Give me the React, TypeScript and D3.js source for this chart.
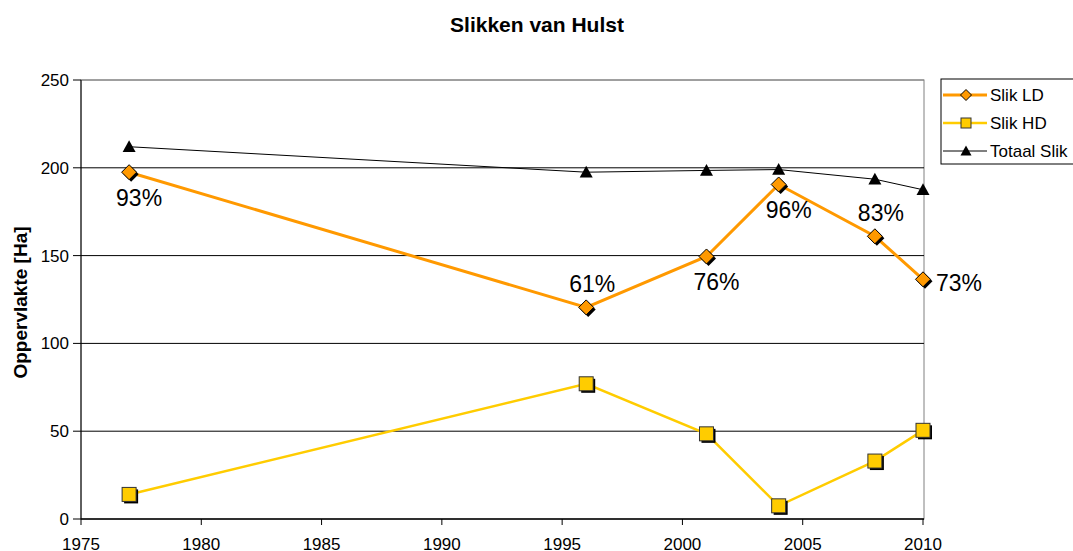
import React from "react";
import * as d3 from "d3";

const years = [1977, 1996, 2001, 2004, 2008, 2010];
const slikLD = [197.5, 120.5, 149.5, 190.5, 161, 136.5];
const slikHD = [14, 77, 48.5, 7.5, 33, 50.5];
const totaal = [212, 197.5, 198.5, 199, 193.5, 187.5];
const pctLabels = ["93%", "61%", "76%", "96%", "83%", "73%"];
const pctPos = ["below", "above", "below", "below", "above", "right"];
const xTicks = [1975, 1980, 1985, 1990, 1995, 2000, 2005, 2010];
const yTicks = [0, 50, 100, 150, 200, 250];

const W = 1073, H = 551;
const m = { left: 81, right: 924, top: 80, bottom: 519 };
const FONT = "Liberation Sans, Arial, sans-serif";

export default function App() {
  const x = d3.scaleLinear().domain([1975, 2010]).range([m.left, m.right - 1]);
  const y = d3.scaleLinear().domain([0, 250]).range([m.bottom, m.top]);
  const line = (vals: number[]) =>
    d3.line<number>().x((_, i) => x(years[i])).y((v) => y(v))(vals) || "";

  const diamond = (cx: number, cy: number, r: number) =>
    `M${cx},${cy - r}L${cx + r},${cy}L${cx},${cy + r}L${cx - r},${cy}Z`;
  const tri = (cx: number, cy: number, r: number) =>
    `M${cx},${cy - r}L${cx + r},${cy + r * 0.8}L${cx - r},${cy + r * 0.8}Z`;

  const labelXY = (i: number) => {
    const px = x(years[i]), py = y(slikLD[i]);
    const p = pctPos[i];
    if (p === "below") return { lx: px + 10, ly: py + 34, anchor: "middle" };
    if (p === "above") return { lx: px + 6, ly: py - 15, anchor: "middle" };
    return { lx: px + 13, ly: py + 12, anchor: "start" };
  };

  return (
    <svg width={W} height={H} style={{ position: "absolute", left: 0, top: 0, background: "#fff" }} fontFamily={FONT}>
      <rect x={0} y={0} width={W} height={H} fill="#fff" />
      <text x={537} y={32} textAnchor="middle" fontSize={21} fontWeight="bold">Slikken van Hulst</text>
      {/* plot border */}
      <rect x={m.left} y={m.top} width={m.right - m.left} height={m.bottom - m.top} fill="none" stroke="#808080" strokeWidth={1} />
      {/* gridlines */}
      {yTicks.map((t) => (
        <line key={"g" + t} x1={m.left} x2={m.right} y1={y(t)} y2={y(t)} stroke={t === 250 ? "#808080" : "#000"} strokeWidth={1} />
      ))}
      {/* axes */}
      <line x1={m.left} x2={m.left} y1={m.top} y2={m.bottom} stroke="#000" />
      <line x1={m.left} x2={m.right} y1={m.bottom} y2={m.bottom} stroke="#000" />
      {yTicks.map((t) => (
        <g key={"y" + t}>
          <line x1={m.left - 8} x2={m.left} y1={y(t)} y2={y(t)} stroke="#000" />
          <text x={m.left - 12} y={y(t) + 6} textAnchor="end" fontSize={17}>{t}</text>
        </g>
      ))}
      {xTicks.map((t) => (
        <g key={"x" + t}>
          <line x1={x(t)} x2={x(t)} y1={m.bottom} y2={m.bottom + 6} stroke="#000" />
          <text x={x(t)} y={m.bottom + 31} textAnchor="middle" fontSize={17}>{t}</text>
        </g>
      ))}
      <text transform={`translate(27,${(m.top + m.bottom) / 2 + 3}) rotate(-90)`} textAnchor="middle" fontSize={19} fontWeight="bold">Oppervlakte [Ha]</text>

      {/* lines */}
      <path d={line(totaal)} fill="none" stroke="#000" strokeWidth={1} />
      <path d={line(slikLD)} fill="none" stroke="#FF9900" strokeWidth={3} />
      <path d={line(slikHD)} fill="none" stroke="#FFCC00" strokeWidth={2.5} />

      {/* markers */}
      {totaal.map((v, i) => (
        <path key={"t" + i} d={tri(x(years[i]), y(v), 6.5)} fill="#000" />
      ))}
      {slikLD.map((v, i) => (
        <g key={"d" + i}>
          <path d={diamond(x(years[i]) + 2, y(v) + 2, 7.5)} fill="#000" />
          <path d={diamond(x(years[i]), y(v), 7.5)} fill="#FF9900" stroke="#000" strokeWidth={1} />
        </g>
      ))}
      {slikHD.map((v, i) => (
        <g key={"s" + i}>
          <rect x={x(years[i]) - 7 + 2} y={y(v) - 7 + 2} width={14} height={14} fill="#000" />
          <rect x={x(years[i]) - 7} y={y(v) - 7} width={14} height={14} fill="#FFCC00" stroke="#333" strokeWidth={1} />
        </g>
      ))}

      {/* data labels */}
      {pctLabels.map((l, i) => {
        const { lx, ly, anchor } = labelXY(i);
        return (
          <text key={"l" + i} x={lx} y={ly} textAnchor={anchor as any} fontSize={23}>{l}</text>
        );
      })}

      {/* legend */}
      <rect x={941} y={79} width={140} height={85} fill="#fff" stroke="#000" strokeWidth={1} />
      {[
        { name: "Slik LD", color: "#FF9900", w: 3, mk: "d" },
        { name: "Slik HD", color: "#FFCC00", w: 2.5, mk: "s" },
        { name: "Totaal Slik", color: "#000", w: 1, mk: "t" },
      ].map((e, i) => {
        const cy = 95 + i * 28;
        return (
          <g key={"lg" + i}>
            <line x1={943} x2={987} y1={cy} y2={cy} stroke={e.color} strokeWidth={e.w} />
            {e.mk === "d" && <path d={diamond(966, cy, 5.5)} fill="#FF9900" stroke="#000" />}
            {e.mk === "s" && <rect x={961} y={cy - 5} width={10} height={10} fill="#FFCC00" stroke="#333" />}
            {e.mk === "t" && <path d={tri(966, cy, 5.5)} fill="#000" />}
            <text x={990} y={cy + 6} fontSize={17}>{e.name}</text>
          </g>
        );
      })}
    </svg>
  );
}
